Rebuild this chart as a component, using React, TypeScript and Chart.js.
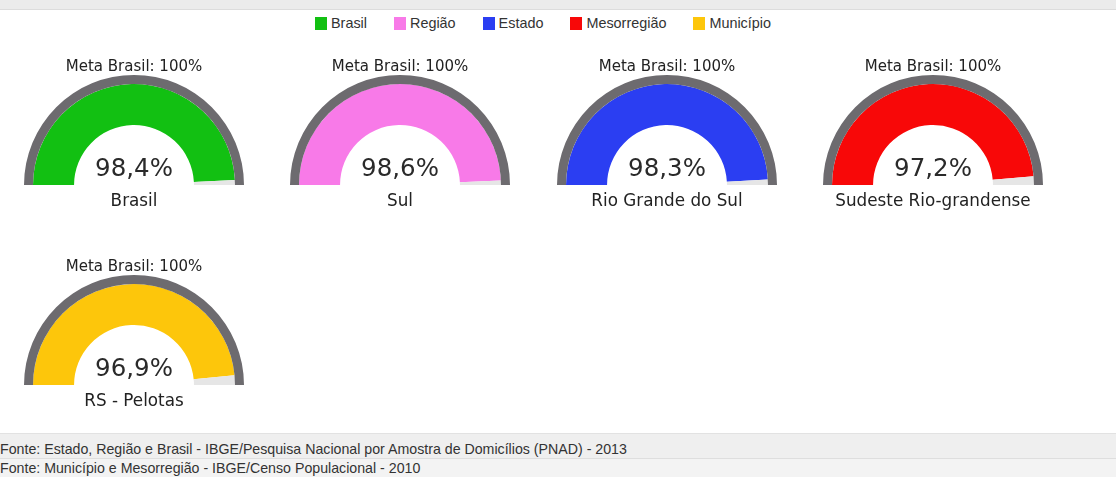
import React, { useEffect, useRef } from "react";
import { Chart, registerables } from "chart.js";

Chart.register(...registerables);

// ---- data ----
const legendLabels = ["Brasil", "Região", "Estado", "Mesorregião", "Município"];
const seriesColors = ["#12c012", "#f87ae8", "#2b3ef2", "#f80808", "#fdc60b"];
const gaugeNames = ["Brasil", "Sul", "Rio Grande do Sul", "Sudeste Rio-grandense", "RS - Pelotas"];
const gaugeValues = [98.4, 98.6, 98.3, 97.2, 96.9];
const targetLabel = "Meta Brasil: 100%";
const targetValue = 100;
const sources = [
  "Fonte: Estado, Região e Brasil - IBGE/Pesquisa Nacional por Amostra de Domicílios (PNAD) - 2013",
  "Fonte: Município e Mesorregião - IBGE/Censo Populacional - 2010",
];

const CW = 266;
const CH = 200;
const PAD = { left: 23, right: 23, top: 30, bottom: 60 };

const fmt = (v: number) => v.toFixed(1).replace(".", ",") + "%";

function Gauge({ value, color, name, left, top }: { value: number; color: string; name: string; left: number; top: number }) {
  const ref = useRef<HTMLCanvasElement | null>(null);
  useEffect(() => {
    if (!ref.current) return;
    const textPlugin = {
      id: "gaugeText",
      afterDraw(chart: any) {
        const arc = chart.getDatasetMeta(0).data[0];
        if (!arc) return;
        const cx = arc.x;
        const cy = arc.y;
        const ctx = chart.ctx;
        ctx.save();
        ctx.textAlign = "center";
        ctx.textBaseline = "alphabetic";
        ctx.fillStyle = "#222";
        ctx.font = '15px "DejaVu Sans"';
        ctx.fillText(targetLabel, cx, cy - 114);
        ctx.fillStyle = "#2a2a2a";
        ctx.font = '24.5px "DejaVu Sans"';
        ctx.fillText(fmt(value), cx, cy - 9);
        ctx.fillStyle = "#222";
        ctx.font = '16.8px "DejaVu Sans"';
        ctx.fillText(name, cx, cy + 21);
        ctx.restore();
      },
    };
    const chart = new Chart(ref.current, {
      type: "doughnut",
      data: {
        labels: [name, ""],
        datasets: [
          {
            data: [targetValue],
            backgroundColor: ["#6d6b6f"],
            borderWidth: 0,
            weight: 9,
          } as any,
          {
            data: [value, targetValue - value],
            backgroundColor: [color, "#e6e6e6"],
            borderWidth: 0,
            weight: 41,
          } as any,
        ],
      },
      options: {
        responsive: false,
        animation: false,
        events: [],
        rotation: -90,
        circumference: 180,
        cutout: "54.5%",
        layout: { padding: PAD },
        plugins: { legend: { display: false }, tooltip: { enabled: false } },
      },
      plugins: [textPlugin],
    });
    return () => chart.destroy();
  }, [value, color, name]);
  return (
    <canvas
      ref={ref}
      width={CW}
      height={CH}
      style={{ position: "absolute", left, top, width: CW, height: CH }}
    />
  );
}

export default function App() {
  const centersX = [134, 400, 667, 933];
  return (
    <div
      style={{
        position: "fixed",
        left: 0,
        top: 0,
        width: 1116,
        height: 477,
        background: "#fff",
        overflow: "hidden",
        fontFamily: '"Liberation Sans", Arial, sans-serif',
      }}
    >
      <div style={{ position: "absolute", left: 0, top: 0, width: 1116, height: 9, background: "#ebebeb", borderBottom: "1px solid #dcdcdc" }} />
      <div style={{ position: "absolute", left: 315, top: 15, display: "flex", alignItems: "center", gap: 27, height: 17 }}>
        {legendLabels.map((l, i) => (
          <div key={l} style={{ display: "flex", alignItems: "center" }}>
            <div style={{ width: 12, height: 13, background: seriesColors[i], marginRight: 4 }} />
            <span style={{ fontSize: 14.4, color: "#333", lineHeight: "17px" }}>{l}</span>
          </div>
        ))}
      </div>
      {gaugeValues.map((v, i) => {
        const col = i % 4;
        const row = Math.floor(i / 4);
        const cx = centersX[col];
        const cy = 185 + row * 200;
        return (
          <Gauge
            key={i}
            value={v}
            color={seriesColors[i]}
            name={gaugeNames[i]}
            left={cx - (PAD.left + 110)}
            top={cy - (PAD.top + 110)}
          />
        );
      })}
      <div style={{ position: "absolute", left: 0, top: 433, width: 1116, height: 25, background: "#efefef", borderTop: "1px solid #e2e2e2" }} />
      <div style={{ position: "absolute", left: 0, top: 458, width: 1116, height: 19, background: "#f3f3f3", borderTop: "1px solid #dedede" }} />
      <div style={{ position: "absolute", left: 0, top: 441, fontSize: 14.2, color: "#333", whiteSpace: "nowrap", lineHeight: "16px" }}>{sources[0]}</div>
      <div style={{ position: "absolute", left: 0, top: 460, fontSize: 14.2, color: "#333", whiteSpace: "nowrap", lineHeight: "16px" }}>{sources[1]}</div>
    </div>
  );
}
